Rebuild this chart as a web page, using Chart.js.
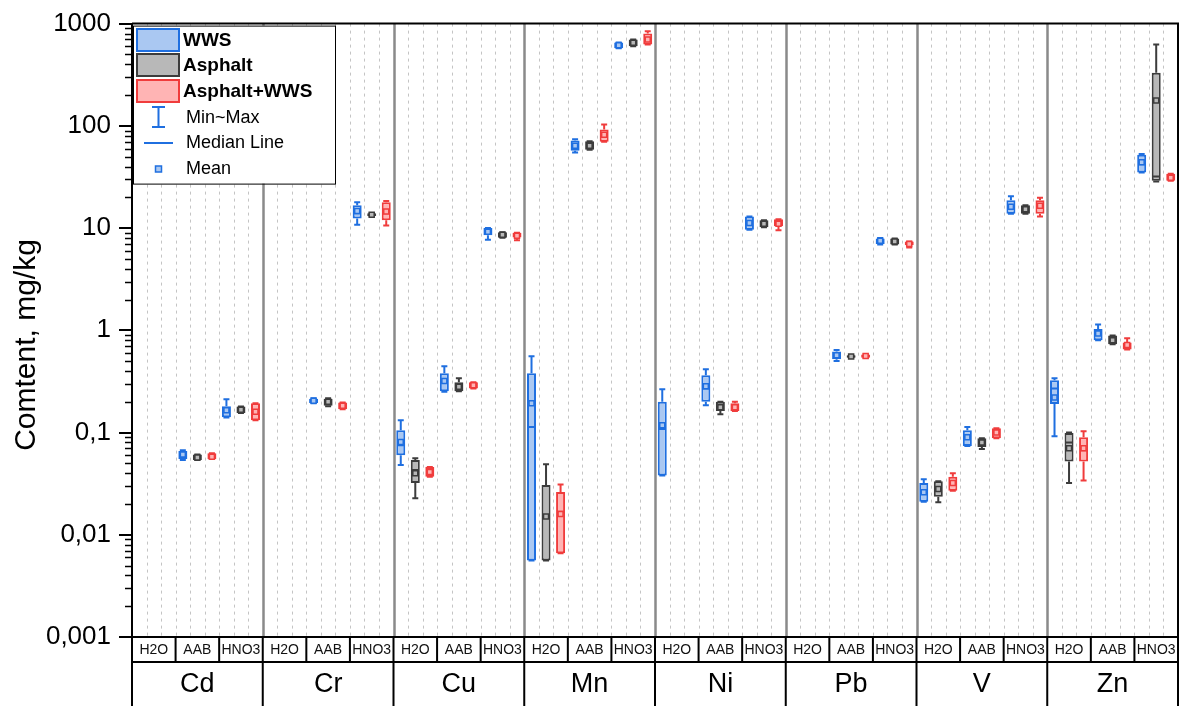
<!DOCTYPE html>
<html><head><meta charset="utf-8">
<script src="https://cdn.jsdelivr.net/npm/chart.js@4.4.0/dist/chart.umd.min.js"></script>
<style>html,body{margin:0;padding:0;background:#fff}#wrap{width:1187px;height:706px;position:relative}</style>
</head><body><div id="wrap"><canvas id="c" width="1187" height="706"></canvas></div>
<script>
const elements = ['Cd','Cr','Cu','Mn','Ni','Pb','V','Zn'];
const methods = ['H2O','AAB','HNO3'];
const yTicks = [0.001, 0.01, 0.1, 1, 10, 100, 1000];
const yTickLabels = ['0,001', '0,01', '0,1', '1', '10', '100', '1000'];
const seriesNames = ['WWS', 'Asphalt', 'Asphalt+WWS'];
const yTitle = 'Comtent, mg/kg';

// each entry: [min, q1, median, q3, max, mean], order: element x method (H2O, AAB, HNO3)
const wws = [
  null, [0.054,0.055,0.060,0.066,0.067,0.061], [0.14,0.141,0.165,0.181,0.212,0.165],
  null, [0.193,0.194,0.203,0.214,0.216,0.205], [10.8,12.4,14.0,16.7,17.9,14.7],
  [0.048,0.060,0.075,0.105,0.132,0.081], [0.25,0.254,0.31,0.38,0.445,0.32], [7.7,8.5,9.0,10.0,10.0,9.2],
  [0.0056,0.0056,0.113,0.38,0.557,0.193], [55,57,62,72,74,64], [573,573,615,655,655,615],
  [0.038,0.038,0.108,0.2,0.265,0.118], [0.185,0.2,0.27,0.363,0.415,0.284], [9.65,9.65,11.0,13.0,13.0,11.2],
  null, [0.5,0.52,0.57,0.62,0.64,0.57], [6.9,7.0,7.5,7.9,7.98,7.5],
  [0.021,0.021,0.026,0.032,0.035,0.026], [0.074,0.074,0.09,0.105,0.113,0.09], [13.8,13.8,16.3,18.7,20.5,16.2],
  [0.092,0.19,0.27,0.325,0.34,0.22], [0.8,0.8,0.93,1.03,1.14,0.93], [35,35,42,52,53,44]
];
const asphalt = [
  null, [0.054,0.054,0.057,0.061,0.061,0.057], [0.155,0.155,0.167,0.18,0.18,0.167],
  null, [0.181,0.183,0.2,0.214,0.216,0.2], [13.1,13.1,13.5,14.0,14.0,13.5],
  [0.0228,0.032,0.043,0.054,0.056,0.04], [0.254,0.254,0.28,0.31,0.34,0.28], [8.05,8.05,8.6,9.08,9.08,8.6],
  [0.0056,0.0056,0.0151,0.0306,0.049,0.0151], [58.5,58.5,64,70.5,70.5,64], [600,600,650,700,700,650],
  null, [0.151,0.162,0.177,0.2,0.2,0.177], [10.2,10.2,11,11.9,11.9,11],
  null, [0.54,0.54,0.555,0.57,0.57,0.555], [6.9,6.9,7.4,7.9,7.9,7.4],
  [0.0208,0.0236,0.028,0.0334,0.0334,0.028], [0.069,0.072,0.08,0.088,0.088,0.08], [13.8,13.8,15.3,16.7,16.7,15.3],
  [0.032,0.052,0.08,0.099,0.1,0.07], [0.73,0.73,0.8,0.89,0.89,0.8], [28.6,29,32,330,625,177]
];
const mix = [
  null, [0.055,0.055,0.058,0.0626,0.0626,0.058], [0.132,0.132,0.16,0.193,0.193,0.16],
  null, [0.169,0.169,0.183,0.197,0.197,0.183], [10.6,11.9,14.0,17.9,18.4,14.5],
  [0.037,0.037,0.041,0.046,0.046,0.041], [0.27,0.27,0.29,0.31,0.31,0.29], [7.6,8.1,8.4,9.0,9.0,8.4],
  [0.0066,0.0066,0.0168,0.0262,0.031,0.016], [70,70,80,92,103,82], [625,625,700,800,840,700],
  null, [0.162,0.162,0.177,0.193,0.2,0.177], [9.5,10.4,11,12.2,12.2,11],
  null, [0.54,0.54,0.56,0.58,0.58,0.56], [6.45,6.8,7.0,7.4,7.4,7.0],
  [0.027,0.027,0.032,0.037,0.04,0.032], [0.088,0.088,0.1,0.11,0.11,0.1], [13.0,13.8,16,18.7,19.8,16.5],
  [0.034,0.052,0.067,0.09,0.103,0.07], [0.65,0.65,0.72,0.76,0.835,0.72], [29,29,31,34,34,31]
];

const allStats = [wws, asphalt, mix];
const borderColors = ['#1f6fe0', '#3c3c3c', '#f03c3c'];
const fillColors = ['#aac8f2', '#b8b8b8', '#ffb4b4'];
const FONT = '"Liberation Sans", Arial, sans-serif';

const categories = elements.flatMap(e => methods.map(m => e + ' ' + m));

const gridPlugin = {
  id: 'slotGrid',
  beforeDatasetsDraw(chart) {
    const {ctx, chartArea: a} = chart;
    const cw = (a.right - a.left) / categories.length;
    ctx.save();
    for (let k = 1; k < categories.length * 3; k++) {
      const x = a.left + k * cw / 3;
      ctx.beginPath();
      if (k % 9 === 0) {
        ctx.setLineDash([]);
        ctx.strokeStyle = '#8a8a8a';
        ctx.lineWidth = 2.5;
      } else {
        ctx.setLineDash([3, 4]);
        ctx.strokeStyle = '#c4c4c4';
        ctx.lineWidth = 1;
      }
      ctx.moveTo(Math.round(x) + 0.5, a.top);
      ctx.lineTo(Math.round(x) + 0.5, a.bottom);
      ctx.stroke();
    }
    ctx.restore();
  }
};

const boxPlugin = {
  id: 'boxExtras',
  afterDatasetsDraw(chart) {
    const {ctx} = chart;
    const ys = chart.scales.y;
    ctx.save();
    allStats.forEach((stats, di) => {
      const meta = chart.getDatasetMeta(di);
      stats.forEach((s, i) => {
        if (!s) return;
        const bar = meta.data[i];
        const x = bar.x, hw = bar.width / 2;
        const pMin = ys.getPixelForValue(s[0]), pQ1 = ys.getPixelForValue(s[1]);
        const pMed = ys.getPixelForValue(s[2]), pQ3 = ys.getPixelForValue(s[3]);
        const pMax = ys.getPixelForValue(s[4]), pMean = ys.getPixelForValue(s[5]);
        ctx.strokeStyle = borderColors[di];
        ctx.lineWidth = 2;
        ctx.beginPath();
        ctx.moveTo(x, pQ3); ctx.lineTo(x, pMax);
        ctx.moveTo(x, pQ1); ctx.lineTo(x, pMin);
        ctx.moveTo(x - 3, pMax); ctx.lineTo(x + 3, pMax);
        ctx.moveTo(x - 3, pMin); ctx.lineTo(x + 3, pMin);
        ctx.moveTo(x - hw + 1, pMed); ctx.lineTo(x + hw - 1, pMed);
        ctx.stroke();
        ctx.fillStyle = fillColors[di];
        ctx.lineWidth = 1.5;
        ctx.beginPath();
        ctx.rect(x - 2.5, pMean - 2.5, 5, 5);
        ctx.fill();
        ctx.stroke();
      });
    });
    ctx.restore();
  }
};

const framePlugin = {
  id: 'frameTable',
  afterDraw(chart) {
    const {ctx, chartArea: a} = chart;
    const ys = chart.scales.y;
    const xs = chart.scales.x;
    ctx.save();
    // y title
    ctx.save();
    ctx.translate(27, 345);
    ctx.rotate(-Math.PI / 2);
    ctx.fillStyle = '#000';
    ctx.font = '30px ' + FONT;
    ctx.textAlign = 'center';
    ctx.textBaseline = 'middle';
    ctx.fillText(yTitle, 0, 0);
    ctx.restore();
    // minor ticks
    ctx.strokeStyle = '#000';
    ctx.lineWidth = 1.5;
    ctx.beginPath();
    for (let d = -3; d < 3; d++) {
      for (let k = 2; k <= 9; k++) {
        const y = Math.round(ys.getPixelForValue(k * Math.pow(10, d))) + 0.5;
        ctx.moveTo(a.left - 7, y); ctx.lineTo(a.left, y);
      }
    }
    ctx.stroke();
    // frame
    ctx.lineWidth = 2;
    ctx.beginPath();
    ctx.moveTo(a.left, a.top); ctx.lineTo(a.right, a.top);
    ctx.lineTo(a.right, chart.height);
    ctx.moveTo(a.left, a.bottom); ctx.lineTo(a.right, a.bottom);
    ctx.moveTo(a.left, a.top); ctx.lineTo(a.left, chart.height);
    const rowY = a.bottom + 25;
    ctx.moveTo(a.left, rowY); ctx.lineTo(a.right, rowY);
    const cw = (a.right - a.left) / categories.length;
    for (let i = 1; i < categories.length; i++) {
      const x = a.left + i * cw;
      ctx.moveTo(x, a.bottom); ctx.lineTo(x, i % 3 === 0 ? chart.height : rowY);
    }
    ctx.stroke();
    // labels
    ctx.fillStyle = '#111';
    ctx.textAlign = 'center';
    ctx.textBaseline = 'middle';
    ctx.font = '14px ' + FONT;
    categories.forEach((c, i) => {
      const x = xs.getPixelForValue(i);
      ctx.fillText(methods[i % 3], x, a.bottom + 13);
    });
    ctx.fillStyle = '#000';
    ctx.font = '27px ' + FONT;
    elements.forEach((e, g) => {
      const x = a.left + (g * 3 + 1.5) * cw;
      ctx.fillText(e, x, rowY + 23);
    });
    // legend
    const lx = a.left + 1, ly = a.top + 2, lw = 202, lh = 158;
    ctx.fillStyle = '#fff';
    ctx.fillRect(lx, ly, lw, lh);
    ctx.strokeStyle = '#000';
    ctx.lineWidth = 1;
    ctx.strokeRect(lx + 0.5, ly + 0.5, lw, lh);
    ctx.textAlign = 'left';
    ctx.font = 'bold 19px ' + FONT;
    const swY = [40, 65, 91];
    seriesNames.forEach((n, i) => {
      ctx.fillStyle = fillColors[i];
      ctx.strokeStyle = borderColors[i];
      ctx.lineWidth = 2;
      ctx.fillRect(137, swY[i] - 11, 42, 22);
      ctx.strokeRect(137, swY[i] - 11, 42, 22);
      ctx.fillStyle = '#000';
      ctx.fillText(n, 183, swY[i] + 1);
    });
    const bc = borderColors[0];
    ctx.strokeStyle = bc;
    ctx.lineWidth = 2;
    ctx.beginPath();
    ctx.moveTo(158.5, 107); ctx.lineTo(158.5, 127);
    ctx.moveTo(152, 107); ctx.lineTo(165, 107);
    ctx.moveTo(152, 127); ctx.lineTo(165, 127);
    ctx.moveTo(144, 143); ctx.lineTo(173, 143);
    ctx.stroke();
    ctx.lineWidth = 1.5;
    ctx.fillStyle = fillColors[0];
    ctx.beginPath();
    ctx.rect(155.5, 166, 6, 6);
    ctx.fill(); ctx.stroke();
    ctx.fillStyle = '#000';
    ctx.font = '18px ' + FONT;
    ctx.fillText('Min~Max', 186, 118);
    ctx.fillText('Median Line', 186, 143);
    ctx.fillText('Mean', 186, 169);
    ctx.restore();
  }
};

new Chart(document.getElementById('c'), {
  type: 'bar',
  data: {
    labels: categories,
    datasets: allStats.map((stats, di) => ({
      label: seriesNames[di],
      data: stats.map(s => s ? [s[1], s[3]] : null),
      backgroundColor: fillColors[di],
      borderColor: borderColors[di],
      borderWidth: 2,
      borderSkipped: false,
      categoryPercentage: 1,
      barPercentage: 0.62
    }))
  },
  options: {
    responsive: false,
    animation: false,
    devicePixelRatio: 1,
    layout: {padding: {top: 23, right: 9, bottom: 69, left: 0}},
    plugins: {legend: {display: false}, tooltip: {enabled: false}},
    scales: {
      x: {type: 'category', display: false, offset: true, grid: {display: false}},
      y: {
        type: 'logarithmic',
        min: 0.001, max: 1000,
        afterBuildTicks: s => { s.ticks = yTicks.map(v => ({value: v, major: true})); },
        afterFit: s => { s.width = 132; },
        ticks: {
          callback: (v) => { const i = yTicks.findIndex(t => Math.abs(Math.log10(t) - Math.log10(v)) < 1e-6); return i >= 0 ? yTickLabels[i] : ''; },
          font: {size: 26, family: FONT},
          color: '#000',
          padding: 8,
          autoSkip: false
        },
        grid: {drawOnChartArea: false, drawTicks: true, tickLength: 13, color: '#000', lineWidth: 2},
        border: {display: true, color: '#000', width: 2},
        title: {display: false}
      }
    }
  },
  plugins: [gridPlugin, boxPlugin, framePlugin]
});
</script></body></html>
